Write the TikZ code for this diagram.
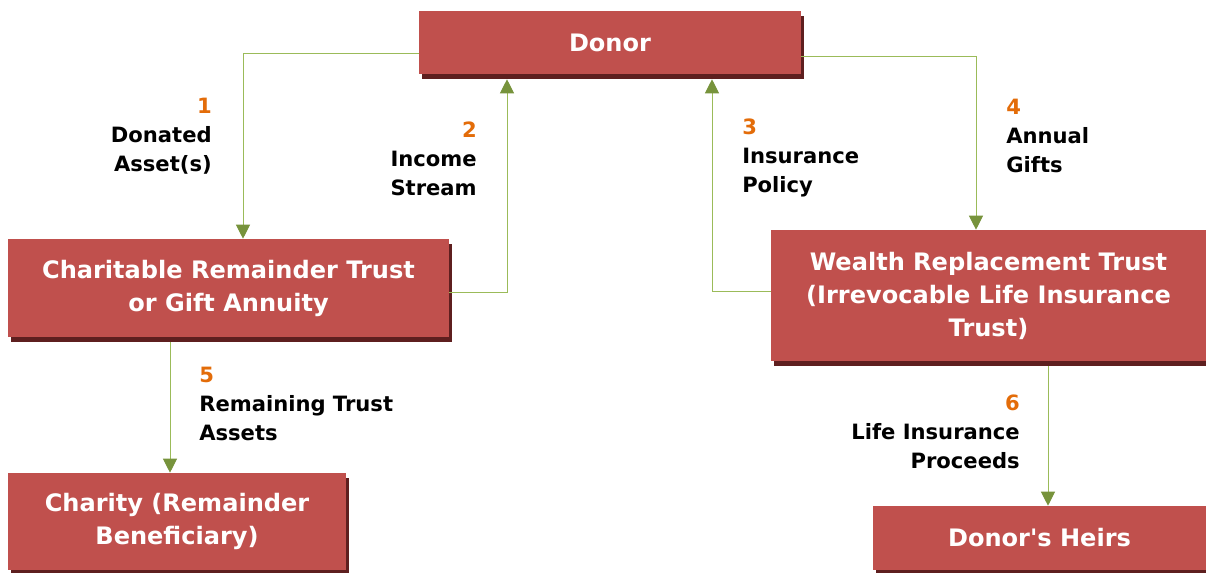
\documentclass[tikz,border=0pt]{standalone}
\usepackage{fontspec}
\setmainfont{DejaVu Sans}
\usetikzlibrary{arrows.meta,shadows,calc}
\definecolor{boxred}{HTML}{C0504D}
\definecolor{shadowred}{HTML}{5E1F1F}
\definecolor{linegreen}{HTML}{9BBB59}
\definecolor{tipgreen}{HTML}{77933C}
\definecolor{numorange}{HTML}{E36C09}
\tikzset{
    box/.style={fill=boxred, text=white, align=center, inner sep=0pt,
        font=\bfseries\fontsize{17.1}{23.5}\selectfont,
        drop shadow={shadow xshift=2.1pt, shadow yshift=-3.6pt, fill=shadowred, opacity=1}},
    conn/.style={draw=linegreen, line width=0.7pt,
        -{Triangle[width=10pt,length=10pt,color=tipgreen]}},
    lbl/.style={inner sep=0pt, font=\bfseries\fontsize{15}{20.8}\selectfont},
}
\newcommand\stepno[1]{\textcolor{numorange}{#1}}
\newcommand\sq{{\addfontfeatures{Ligatures=TeXOff}'}}
\begin{document}
\begin{tikzpicture}[x=0.025cm, y=-0.025cm]
        \useasboundingbox (0,0) rectangle (1206,573);
        \begin{scope}
            \node[box, minimum width=9.55cm, minimum height=1.575cm] (donor) at (610,42.5) {Donor};
            \node[box, minimum width=11.025cm, minimum height=2.45cm] (crt) at (228.5,288)
                {Charitable Remainder Trust\\or Gift Annuity};
            \node[box, minimum width=10.875cm, minimum height=3.275cm] (wrt) at (988.5,295.5)
                {Wealth Replacement Trust\\(Irrevocable Life Insurance\\Trust)};
            \node[box, minimum width=8.45cm, minimum height=2.425cm] (charity) at (177,521.5)
                {Charity (Remainder\\Beneficiary)};
            \node[box, minimum width=8.325cm, minimum height=1.6cm] (heirs) at (1039.5,538) {Donor\sq s Heirs};

            \draw[conn] ($(donor.west)+(0,10.5)$) -| ($(crt.north)+(14.5,0)$);
            \draw[conn] ($(crt.east)+(0,4)$) -| ($(donor.south)+(-103,5)$);
            \draw[conn] ($(wrt.west)+(0,-4.5)$) -| ($(donor.south)+(102,5)$);
            \draw[conn] ($(donor.east)+(0,13.5)$) -| ($(wrt.north)+(-12.5,0)$);
            \draw[conn] ($(crt.south)+(-58.5,5)$) -- ($(charity.north)+(-7,0)$);
            \draw[conn] ($(wrt.south)+(59.5,5)$) -- ($(heirs.north)+(8.5,0)$);

            \node[lbl, align=right, anchor=east] (l1) at (212,136) {\stepno{1}\\Donated\\Asset(s)};
            \node[lbl, align=right, anchor=east] (l2) at (477,159) {\stepno{2}\\Income\\Stream};
            \node[lbl, align=left, anchor=west] (l3) at (742,158) {\stepno{3}\\Insurance\\Policy};
            \node[lbl, align=left, anchor=west] (l4) at (1006,136) {\stepno{4}\\Annual\\Gifts};
            \node[lbl, align=left, anchor=west] (l5) at (199,404) {\stepno{5}\\Remaining Trust\\Assets};
            \node[lbl, align=right, anchor=east] (l6) at (1020,432) {\stepno{6}\\Life Insurance\\Proceeds};
        \end{scope}
    \end{tikzpicture}
\end{document}
